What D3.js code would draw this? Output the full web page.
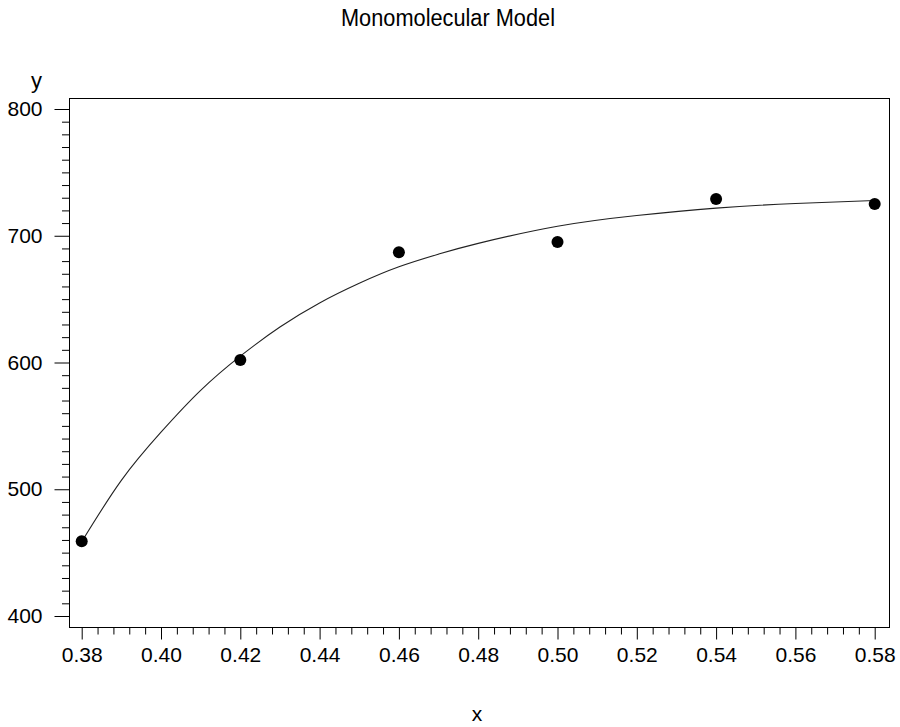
<!DOCTYPE html>
<html>
<head>
<meta charset="utf-8">
<script src="https://cdn.jsdelivr.net/npm/d3@7/dist/d3.min.js"></script>
<style>
  body { margin: 0; background: #fff; }
  text { font-family: "Liberation Sans", Arial, sans-serif; fill: #000; }
</style>
</head>
<body>
<svg id="chart" width="900" height="727"></svg>
<script>
// Observed data
const obsX = [0.38, 0.42, 0.46, 0.50, 0.54, 0.58];
const obsY = [459, 602, 687, 695, 729, 725];

// Fitted curve
const curveX = [0.38, 0.39, 0.40, 0.41, 0.42, 0.43, 0.44, 0.45, 0.46, 0.47, 0.48, 0.50, 0.52, 0.54, 0.56, 0.58];
const curveY = [458.6, 507, 545, 578, 605, 628, 647, 662.5, 675.5, 685.5, 694, 707.5, 716, 721.8, 725.5, 727.8];

const xMajor = [0.38, 0.40, 0.42, 0.44, 0.46, 0.48, 0.50, 0.52, 0.54, 0.56, 0.58];
const yMajor = [400, 500, 600, 700, 800];

const titleText = "Monomolecular Model";
const xLabel = "x";
const yLabel = "y";

const svg = d3.select("#chart");
const frame = { left: 69, right: 889, top: 98, bottom: 627 };

const x = d3.scaleLinear().domain([0.38, 0.58]).range([81.7, 874.7]);
const y = d3.scaleLinear().domain([400, 800]).range([616, 109]);

// Minor ticks
const xMinor = d3.range(0, 51).map(i => 0.38 + i * 0.004).filter(v => !xMajor.some(m => Math.abs(m - v) < 1e-9));
const yMinor = d3.range(0, 41).map(i => 400 + i * 10).filter(v => v % 100 !== 0);

// Frame
svg.append("rect")
  .attr("x", frame.left + 0.5).attr("y", frame.top + 0.5)
  .attr("width", frame.right - frame.left).attr("height", frame.bottom - frame.top)
  .attr("fill", "none").attr("stroke", "#000").attr("stroke-width", 1);

// X axis (major)
const xAxis = d3.axisBottom(x).tickValues(xMajor).tickFormat(d3.format(".2f")).tickSize(12).tickSizeOuter(0).tickPadding(8);
const gx = svg.append("g").attr("transform", `translate(0,${frame.bottom + 0.5})`).call(xAxis);
gx.select(".domain").remove();
gx.selectAll("line").attr("stroke", "#000");
gx.selectAll("text").attr("font-size", 21).attr("font-family", "'Liberation Sans', Arial, sans-serif");

const xAxisMinor = d3.axisBottom(x).tickValues(xMinor).tickFormat("").tickSize(7).tickSizeOuter(0);
const gxm = svg.append("g").attr("transform", `translate(0,${frame.bottom + 0.5})`).call(xAxisMinor);
gxm.select(".domain").remove();
gxm.selectAll("line").attr("stroke", "#000");

// Y axis (major)
const yAxis = d3.axisLeft(y).tickValues(yMajor).tickFormat(d3.format("d")).tickSize(15).tickSizeOuter(0).tickPadding(12);
const gy = svg.append("g").attr("transform", `translate(${frame.left + 0.5},0)`).call(yAxis);
gy.select(".domain").remove();
gy.selectAll("line").attr("stroke", "#000");
gy.selectAll("text").attr("font-size", 21).attr("font-family", "'Liberation Sans', Arial, sans-serif");

const yAxisMinor = d3.axisLeft(y).tickValues(yMinor).tickFormat("").tickSize(7.5).tickSizeOuter(0);
const gym = svg.append("g").attr("transform", `translate(${frame.left + 0.5},0)`).call(yAxisMinor);
gym.select(".domain").remove();
gym.selectAll("line").attr("stroke", "#000");

// Fitted curve
const line = d3.line().x((d, i) => x(curveX[i])).y((d, i) => y(curveY[i])).curve(d3.curveNatural);
svg.append("path")
  .datum(curveX)
  .attr("d", line)
  .attr("fill", "none")
  .attr("stroke", "#222")
  .attr("stroke-width", 1.1);

// Observed points
svg.append("g").selectAll("circle")
  .data(obsX)
  .join("circle")
  .attr("cx", (d, i) => x(obsX[i]))
  .attr("cy", (d, i) => y(obsY[i]))
  .attr("r", 6)
  .attr("fill", "#000");

// Title
svg.append("text")
  .attr("x", 448).attr("y", 26)
  .attr("text-anchor", "middle")
  .attr("font-size", 23)
  .attr("textLength", 214)
  .attr("lengthAdjust", "spacingAndGlyphs")
  .text(titleText);

// Axis labels
svg.append("text")
  .attr("x", 477).attr("y", 721)
  .attr("text-anchor", "middle")
  .attr("font-size", 21)
  .text(xLabel);

svg.append("text")
  .attr("x", 42).attr("y", 88)
  .attr("text-anchor", "end")
  .attr("font-size", 22)
  .text(yLabel);
</script>
</body>
</html>
